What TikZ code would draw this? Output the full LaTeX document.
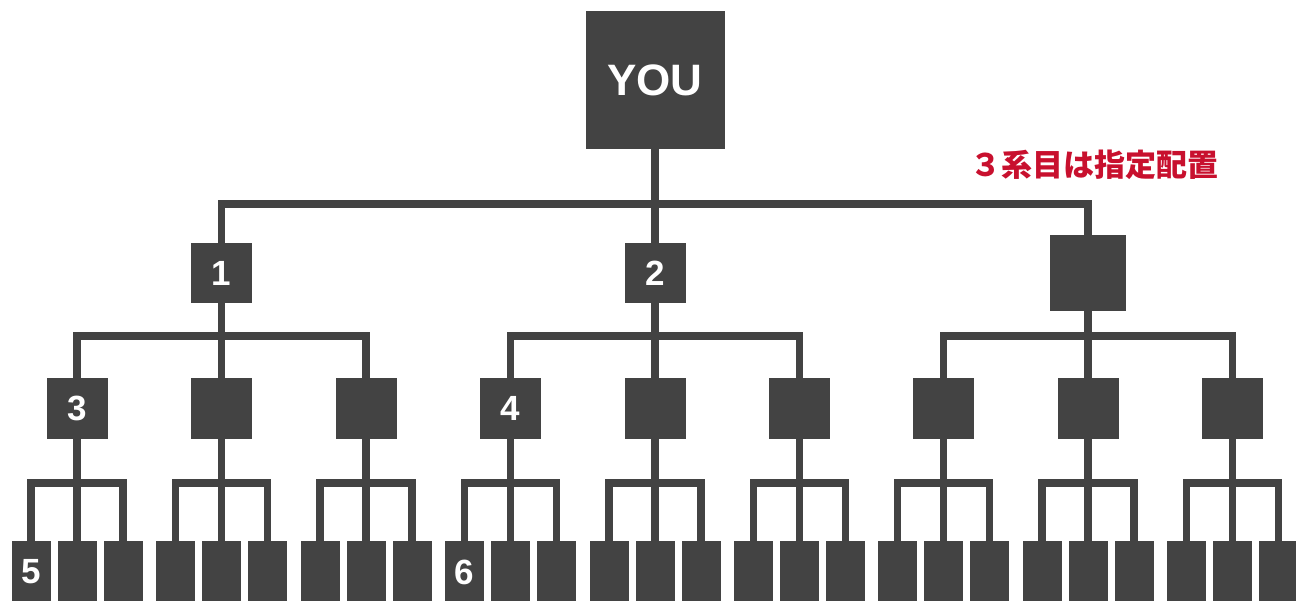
\documentclass[tikz,border=0pt]{standalone}
\usepackage{fontspec}
\setmainfont{Liberation Sans}
\newfontfamily\cjk{Noto Sans CJK JP}
\definecolor{boxgray}{HTML}{434343}
\definecolor{accent}{HTML}{C8102E}
\newcommand\labthree[2]{\ifnum#2=1 \ifnum#1=1 3\fi\ifnum#1=2 4\fi\fi}
\newcommand\labfour[3]{\ifnum#2=1 \ifnum#3=1 \ifnum#1=1 5\fi\ifnum#1=2 6\fi\fi\fi}
\begin{document}
\begin{tikzpicture}[x=1pt,y=-1pt,
  box/.style={fill=boxgray, inner sep=0pt, text=white, font=\bfseries\fontsize{35}{35}\selectfont},
  line/.style={draw=boxgray, line width=7.5pt, line join=miter}]
\useasboundingbox (0,0) rectangle (1296,601);
\clip (0,0) rectangle (1296,601);
\coordinate (bus1) at (0,204);
\coordinate (bus2) at (0,336);
\coordinate (bus3) at (0,483);
\node[box, minimum width=139pt, minimum height=138pt, font=\bfseries\fontsize{44}{44}\selectfont] (you) at (655,80) {YOU};
\node[box, minimum width=61pt, minimum height=60pt] (L2-1) at (221.5,273) {1};
\node[box, minimum width=61pt, minimum height=60pt] (L2-2) at (655,273) {2};
\node[box, minimum width=76pt, minimum height=76pt] (L2-3) at (1088,273) {};
\node[text=accent, font=\cjk\bfseries\fontsize{31}{31}\selectfont] (note) at (1094,165) {３系目は指定配置};
\draw[line] (you.south) -- (you.south |- bus1);
\draw[line] (L2-1.north) |- (L2-3.north |- bus1) -- (L2-3.north);
\draw[line] (L2-2.north) -- (L2-2.north |- bus1);
\foreach \i/\px in {1/221.5,2/655,3/1088}{
  \foreach \j in {1,2,3}{
    \pgfmathsetmacro\cx{\px+(\j-2)*144.5}
    \node[box, minimum width=61pt, minimum height=61pt] (L3-\i-\j) at (\cx,408.5) {\labthree{\i}{\j}};
    \foreach \k in {1,2,3}{
      \pgfmathsetmacro\bx{\cx+(\k-2)*46}
      \node[box, minimum width=39pt, minimum height=62pt] (L4-\i-\j-\k) at (\bx,572) {\labfour{\i}{\j}{\k}};
    }
    \draw[line] (L3-\i-\j.south) -- (L3-\i-\j.south |- bus3);
    \draw[line] (L4-\i-\j-1.north) |- (L4-\i-\j-3.north |- bus3) -- (L4-\i-\j-3.north);
    \draw[line] (L4-\i-\j-2.north) -- (L4-\i-\j-2.north |- bus3);
  }
  \draw[line] (L2-\i.south) -- (L2-\i.south |- bus2);
  \draw[line] (L3-\i-1.north) |- (L3-\i-3.north |- bus2) -- (L3-\i-3.north);
  \draw[line] (L3-\i-2.north) -- (L3-\i-2.north |- bus2);
}
\end{tikzpicture}
\end{document}
